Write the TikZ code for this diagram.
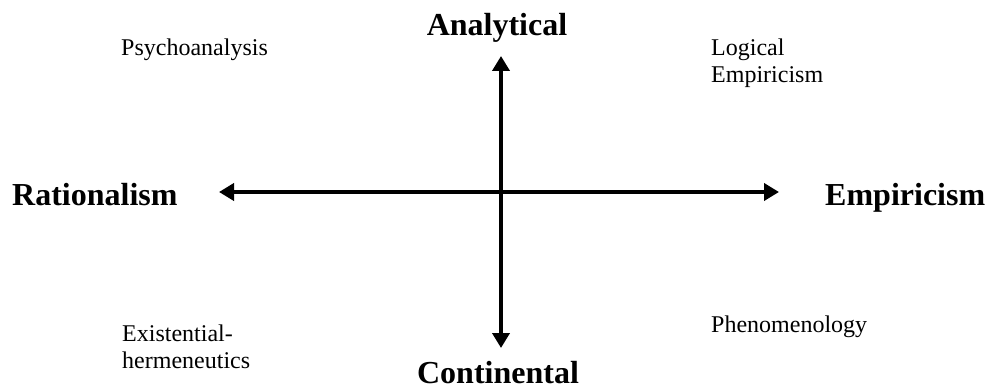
\documentclass[tikz,border=0pt]{standalone}
\usepackage{fontspec}
\setmainfont{Liberation Serif}
\usetikzlibrary{arrows.meta}
\begin{document}
\begin{tikzpicture}[x=1pt,y=-1pt,
  axis/.style={line width=3.8pt,{Triangle[length=15pt,width=17pt]}-{Triangle[length=15pt,width=17pt]}},
  pole/.style={font=\fontsize{32}{36}\selectfont\bfseries,inner sep=0pt},
  school/.style={font=\fontsize{24}{27}\selectfont,inner sep=0pt,align=left,anchor=base west}]
\useasboundingbox (0,0) rectangle (987,390);
\coordinate (L) at (219,192);
\coordinate (R) at (779,192);
\coordinate (T) at (501,56);
\coordinate (B) at (501,348);
\draw[axis] (L) -- (R);
\draw[axis] (T) -- (B);
\node[pole,anchor=base] (ana) at (497,36) {Analytical};
\node[pole,anchor=base] (con) at (498,383) {Continental};
\node[pole,anchor=base west] (rat) at (12,205) {Rationalism};
\node[pole,anchor=base west] (emp) at (825,205) {Empiricism};
\node[school] (psy) at (121,56) {Psychoanalysis};
\node[school] (log) at (711,83) {Logical\\Empiricism};
\node[school] (exi) at (122,368) {Existential-\\hermeneutics};
\node[school] (phe) at (711,332) {Phenomenology};
\end{tikzpicture}
\end{document}
